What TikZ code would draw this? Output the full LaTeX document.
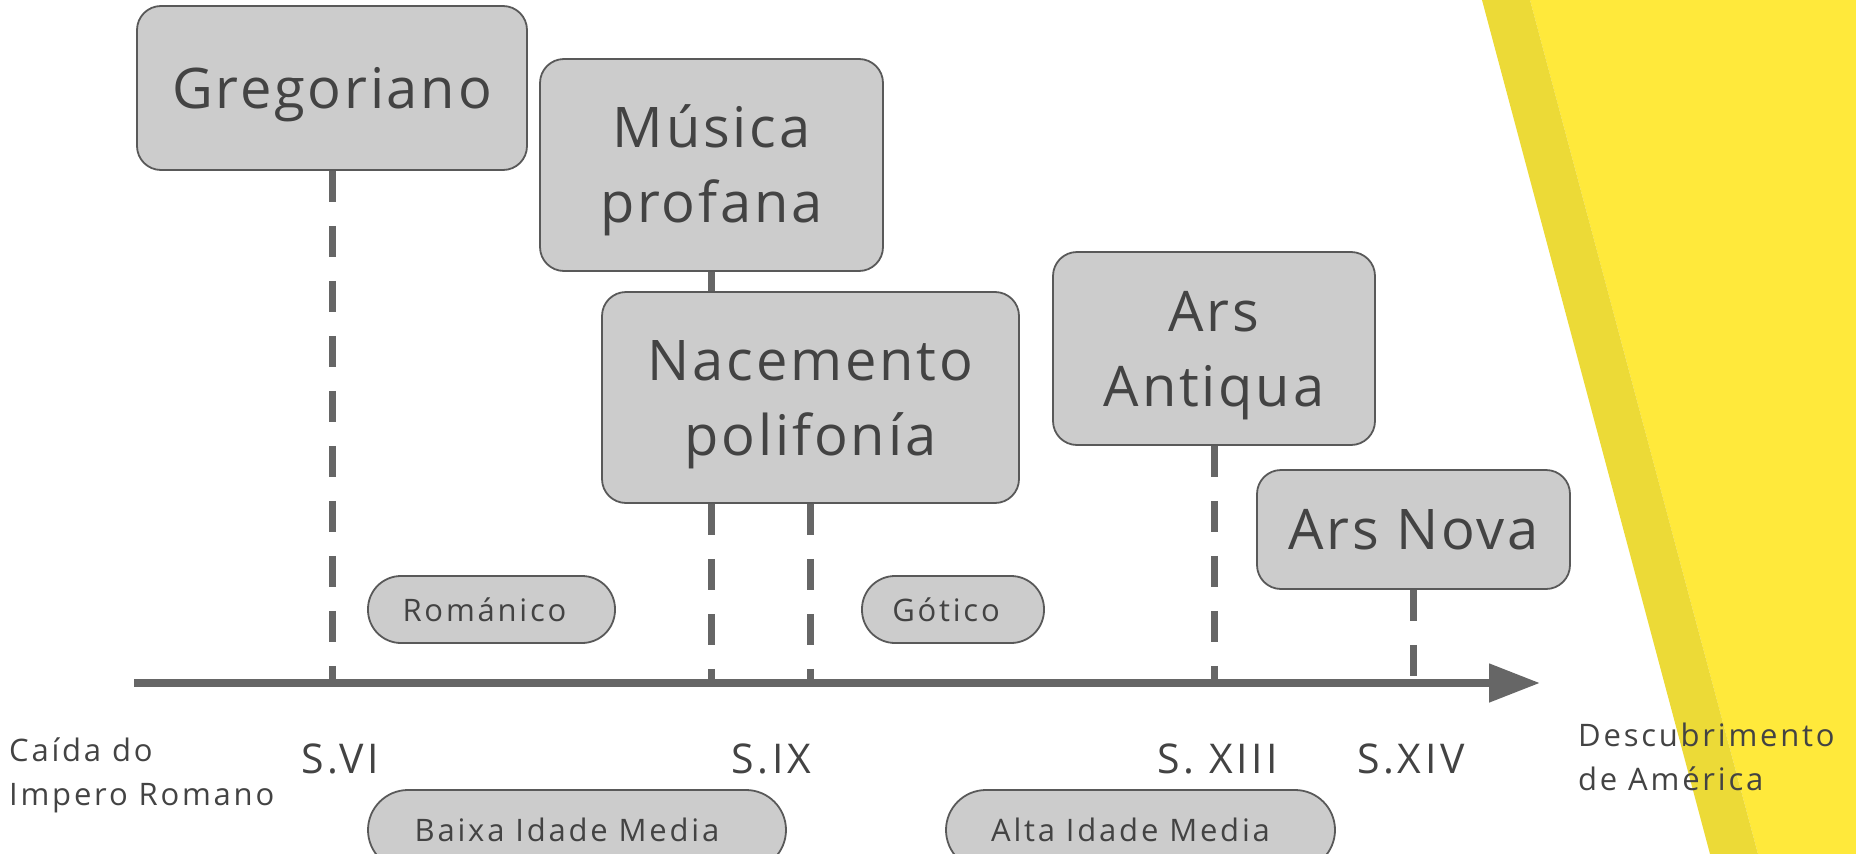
\documentclass[tikz,border=0pt]{standalone}
\usepackage{fontspec}
\setmainfont{Open Sans}
\newfontfamily\bigfam[LetterSpace=5]{Open Sans}
\newfontfamily\smallfam[LetterSpace=9]{Open Sans}
\usetikzlibrary{arrows.meta}
\definecolor{boxfill}{HTML}{CCCCCC}
\definecolor{boxline}{HTML}{595959}
\definecolor{txt}{HTML}{434343}
\definecolor{axisgray}{HTML}{666666}
\definecolor{ylight}{HTML}{FFE93B}
\definecolor{ydark}{HTML}{ECDA37}
\newcommand\lowtext[1]{\raisebox{-5pt}[\height][\depth]{\begin{tabular}{@{}c@{}}#1\end{tabular}}}
\begin{document}
\begin{tikzpicture}[x=1pt,y=-1pt,
  bigbox/.style={draw=boxline, line width=1.8pt, fill=boxfill, rounded corners=24pt,
    text=txt, inner sep=0pt,
    font=\bigfam\fontsize{56}{75}\selectfont},
  pill/.style={draw=boxline, line width=1.8pt, fill=boxfill, rounded corners=33pt,
    text=txt, inner sep=0pt, font=\smallfam\fontsize{31}{36}\selectfont},
  bigpill/.style={pill, rounded corners=40pt},
  lab/.style={text=txt, inner sep=0pt, font=\smallfam\fontsize{41}{48}\selectfont},
  sidelab/.style={text=txt, inner sep=0pt, align=left, font=\smallfam\fontsize{31}{44}\selectfont},
  dashline/.style={draw=axisgray, line width=7pt, dash pattern=on 31pt off 24pt},
  solidline/.style={draw=axisgray, line width=7pt}
]
\useasboundingbox (0,0) rectangle (1856,854);
% yellow background
\fill[ylight] (1530,0) -- (1856,0) -- (1856,854) -- (1758,854) -- cycle;
\fill[ydark] (1482,0) -- (1530,0) -- (1758,854) -- (1710,854) -- cycle;

% axis
\coordinate (axL) at (134,683);
\coordinate (axR) at (1540,683);

% boxes
\node[bigbox, minimum width=390pt, minimum height=164pt] (greg) at (332,88) {\lowtext{Gregoriano}};
\node[bigbox, minimum width=343pt, minimum height=212pt] (mus) at (711.5,165) {\lowtext{Música\\profana}};
\node[bigbox, minimum width=417pt, minimum height=211pt] (nac) at (810.5,397.5) {\lowtext{Nacemento\\polifonía}};
\node[bigbox, minimum width=322pt, minimum height=193pt] (antiq) at (1214,348.5) {\lowtext{Ars\\Antiqua}};
\node[bigbox, minimum width=313pt, minimum height=119pt] (nova) at (1413.5,529.5) {\lowtext{Ars Nova}};

% pills
\node[pill, minimum width=247pt, minimum height=67pt] (rom) at (491.5,609.5) {Románico\hspace*{14pt}};
\node[pill, minimum width=182pt, minimum height=67pt] (got) at (953,609.5) {Gótico\hspace*{14pt}};
\node[bigpill, minimum width=418pt, minimum height=80pt] (baixa) at (577,830) {Baixa Idade Media\hspace*{20pt}};
\node[bigpill, minimum width=389pt, minimum height=80pt] (alta) at (1140.5,830) {Alta Idade Media\hspace*{20pt}};

% connectors
\draw[dashline] (greg.south) -- (greg.south |- axL);
\draw[solidline] (mus.south) -- (mus.south |- nac.north);
\coordinate (nacL) at (nac.south -| mus.south);
\draw[dashline] (nacL) -- (nacL |- axL);
\draw[dashline] (nac.south) -- (nac.south |- axL);
\draw[dashline] (antiq.south) -- (antiq.south |- axL);
\draw[dashline] (nova.south) -- (nova.south |- axL);

\draw[draw=axisgray, line width=8pt, -{Triangle[length=51pt,width=37pt]}] (axL) -- (axR);

% labels
\node[lab] (s6) at (340,759) {S.VI};
\node[lab] (s9) at (771.5,759) {S.IX};
\node[lab] (s13) at (1218,759) {S. XIII};
\node[lab] (s14) at (1411,759) {S.XIV};
\node[sidelab, anchor=west] (caida) at (9,775) {Caída do\\Impero Romano};
\node[sidelab, anchor=west] (desc) at (1578,757) {Descubrimento\\de América};
\end{tikzpicture}
\end{document}
